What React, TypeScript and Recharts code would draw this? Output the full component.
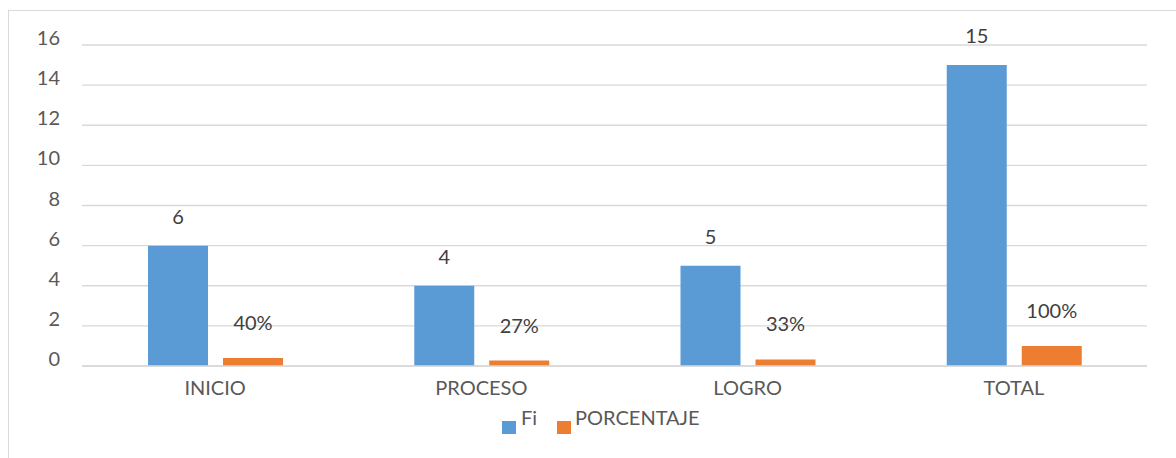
import React from 'react';
import { BarChart, Bar, XAxis, YAxis, CartesianGrid, Legend, LabelList } from 'recharts';

const categories = ['INICIO', 'PROCESO', 'LOGRO', 'TOTAL'];
const fiValues = [6, 4, 5, 15];
const porcentajeValues = [0.4, 0.27, 0.33, 1];
const yTicks = [0, 2, 4, 6, 8, 10, 12, 14, 16];

const data = categories.map((name, i) => ({
  name,
  fi: fiValues[i],
  porcentaje: porcentajeValues[i],
}));

const FONT = 'Lato, "Open Sans", sans-serif';
const AXIS_COLOR = '#595959';
const GRID_COLOR = '#d9d9d9';

const YTick = (props: any) => {
  const { x, y, payload } = props;
  return (
    <text x={x} y={y} textAnchor="end" fill={AXIS_COLOR} fontSize={20} fontFamily={FONT}>
      {payload.value}
    </text>
  );
};

const XTick = (props: any) => {
  const { x, y, payload } = props;
  return (
    <text x={x} y={y} textAnchor="middle" fill={AXIS_COLOR} fontSize={20} fontFamily={FONT}>
      {payload.value}
    </text>
  );
};

const renderLegend = (props: any) => {
  const { payload } = props;
  return (
    <div
      style={{
        display: 'flex',
        alignItems: 'flex-start',
        fontFamily: FONT,
        fontSize: 20,
        lineHeight: '20px',
        color: AXIS_COLOR,
        whiteSpace: 'nowrap',
      }}
    >
      {payload.map((entry: any, i: number) => (
        <div key={entry.value} style={{ display: 'flex', alignItems: 'flex-start', marginLeft: i === 0 ? 0 : 20 }}>
          <span style={{ width: 14, height: 13, marginTop: 14, marginRight: i === 0 ? 5 : 4, background: entry.color }} />
          <span>{entry.value}</span>
        </div>
      ))}
    </div>
  );
};

export default function App() {
  return (
    <div style={{ position: 'fixed', left: 0, top: 0, width: 1176, height: 458, overflow: 'hidden', background: '#fff' }}>
      <div
        style={{
          position: 'absolute',
          left: 8,
          top: 10,
          width: 1168,
          height: 448,
          borderLeft: `1px solid ${GRID_COLOR}`,
          borderTop: `1px solid ${GRID_COLOR}`,
        }}
      >
        <BarChart
          width={1167}
          height={447}
          data={data}
          margin={{ top: 34, right: 29, bottom: 0, left: 0 }}
          barGap={15}
          barSize={60}
        >
          <CartesianGrid vertical={false} stroke={GRID_COLOR} strokeWidth={1.3} />
          <XAxis
            dataKey="name"
            height={92}
            axisLine={{ stroke: GRID_COLOR, strokeWidth: 1.3 }}
            tickLine={false}
            tickSize={0}
            tickMargin={29}
            tick={<XTick />}
          />
          <YAxis
            width={73}
            domain={[0, 16]}
            ticks={yTicks}
            axisLine={false}
            tickLine={false}
            tickSize={0}
            tickMargin={22}
            tick={<YTick />}
            interval={0}
          />
          <Legend
            verticalAlign="middle"
            align="center"
            layout="horizontal"
            wrapperStyle={{ top: 396, left: 493, width: 'auto', height: 'auto' }}
            content={renderLegend}
          />
          <Bar dataKey="fi" name="Fi" fill="#5B9BD5" isAnimationActive={false}>
            <LabelList dataKey="fi" position="top" offset={22} fill="#404040" fontSize={20} fontFamily={FONT} />
          </Bar>
          <Bar dataKey="porcentaje" name="PORCENTAJE" fill="#ED7D31" isAnimationActive={false}>
            <LabelList
              dataKey="porcentaje"
              position="top"
              offset={28}
              fill="#404040"
              fontSize={20}
              fontFamily={FONT}
              formatter={(v: any) => `${Math.round(Number(v) * 100)}%`}
            />
          </Bar>
        </BarChart>
      </div>
    </div>
  );
}
